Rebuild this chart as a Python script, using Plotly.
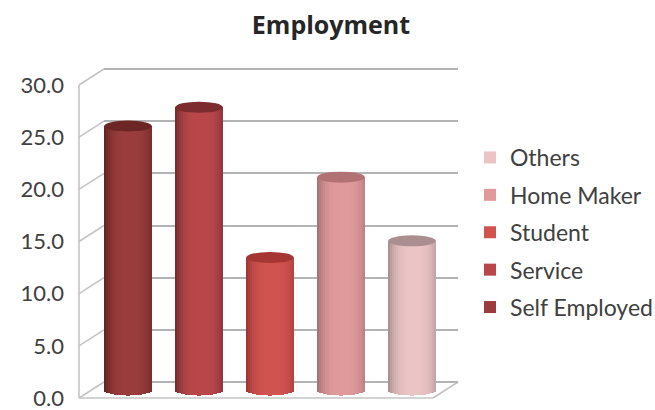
import plotly.graph_objects as go

WIDTH, HEIGHT = 655, 410

categories = ["Self Employed", "Service", "Student", "Home Maker", "Others"]
values = [25.3, 27.1, 12.7, 20.4, 14.3]
tick_values = [0, 5, 10, 15, 20, 25, 30]
tick_labels = ["0.0", "5.0", "10.0", "15.0", "20.0", "25.0", "30.0"]

centre_colors = ["#9a3c3c", "#b9474a", "#d15350", "#e09a9c", "#ebc4c5"]
edge_colors = ["#5e2222", "#6e2a2c", "#9a3432", "#a26e70", "#a38a8c"]
cap_colors = ["#6c2626", "#7c2c2e", "#a53634", "#b27274", "#ab8e90"]

TEXT_COLOR = "#404040"
GRID_COLOR = "#b4b4b4"
WALL_COLOR = "#c4c4c4"
FONT = "Lato"

# Pixel geometry of the pseudo-3D box
PX_PER_UNIT = 313 / 30
FRONT_LEFT, FRONT_BOTTOM = 79, 398
BACK_LEFT, BACK_BOTTOM = 104, 382
BACK_RIGHT = 458
BAR_BOTTOM = 390
FIRST_CENTRE, BAR_STEP = 128, 71
BAR_WIDTH = 0.67
CAP_HEIGHT = 5.5 / PX_PER_UNIT
STRIPS = 24
RANGE_PAD = 0.5  # keeps the first and last gridline away from the axis ends


def value_domain(bottom_px):
    """Vertical domain of a value axis whose zero sits at bottom_px."""
    low = HEIGHT - bottom_px - RANGE_PAD * PX_PER_UNIT
    high = HEIGHT - bottom_px + (30 + RANGE_PAD) * PX_PER_UNIT
    return [low / HEIGHT, high / HEIGHT]


def hex_rgb(color):
    return [int(color[i:i + 2], 16) for i in (1, 3, 5)]


def mix(a, b, f):
    ra, rb = hex_rgb(a), hex_rgb(b)
    return "rgb({},{},{})".format(*[round(p + (q - p) * f) for p, q in zip(ra, rb)])


def cylinder_strips(index, value):
    """Vertical strips shaded like a cylinder, their ends following the base ellipse."""
    step = BAR_WIDTH / STRIPS
    xs, bases, heights, colors = [], [], [], []
    for s in range(STRIPS):
        t = (s + 0.5) / STRIPS * 2 - 1
        curve = (1 - t * t) ** 0.5
        light = 1 - min(1, abs(t - 0.08) / 1.08) ** 3.2
        xs.append(index + t * BAR_WIDTH / 2)
        bases.append(-CAP_HEIGHT * curve)
        heights.append(value + CAP_HEIGHT * curve)
        colors.append(mix(edge_colors[index], centre_colors[index], light))
    # the central strip comes first so that the legend swatch takes its colour
    mid = STRIPS // 2
    order = [mid] + list(range(mid)) + list(range(mid + 1, STRIPS))
    return (
        [xs[o] for o in order],
        [bases[o] for o in order],
        [heights[o] for o in order],
        [colors[o] for o in order],
        step * 1.15,
    )


fig = go.Figure()

# The gridded back wall and the labelled front edge hold an invisible point each,
# which keeps those axes drawn.
fig.add_trace(go.Scatter(x=[0], y=[0], mode="none", showlegend=False, hoverinfo="skip"))
fig.add_trace(go.Scatter(x=[0], y=[0], xaxis="x2", yaxis="y2", mode="none",
                         showlegend=False, hoverinfo="skip"))

# Added last to first: the legend lists "Others" at the top.
for i in reversed(range(len(categories))):
    xs, bases, heights, colors, w = cylinder_strips(i, values[i])
    fig.add_trace(go.Bar(
        x=xs, y=heights, base=bases, width=w, name=categories[i],
        legendgroup=categories[i],
        marker=dict(color=colors, line=dict(width=0)),
        xaxis="x3", yaxis="y3", hoverinfo="skip",
    ))

shapes = []


def line(x0, y0, x1, y1, color=WALL_COLOR, width=1.6):
    shapes.append(dict(
        type="line", xref="paper", yref="paper", layer="below",
        x0=x0 / WIDTH, x1=x1 / WIDTH,
        y0=1 - y0 / HEIGHT, y1=1 - y1 / HEIGHT,
        line=dict(color=color, width=width),
    ))


# Slanted side-wall lines, front wall edge and floor outline
for v in tick_values:
    line(FRONT_LEFT, FRONT_BOTTOM - v * PX_PER_UNIT,
         BACK_LEFT, BACK_BOTTOM - v * PX_PER_UNIT)
line(FRONT_LEFT, FRONT_BOTTOM, FRONT_LEFT, FRONT_BOTTOM - 30 * PX_PER_UNIT)
line(FRONT_LEFT, FRONT_BOTTOM, BACK_RIGHT - 25, FRONT_BOTTOM)
line(BACK_RIGHT - 25, FRONT_BOTTOM, BACK_RIGHT, BACK_BOTTOM)

# Elliptical top of each cylinder
for i, value in enumerate(values):
    shapes.append(dict(
        type="circle", xref="x3", yref="y3", layer="above",
        x0=i - BAR_WIDTH / 2, x1=i + BAR_WIDTH / 2,
        y0=value - CAP_HEIGHT, y1=value + CAP_HEIGHT,
        fillcolor=cap_colors[i], line=dict(width=0),
    ))

fig.update_layout(
    width=WIDTH, height=HEIGHT,
    margin=dict(l=0, r=0, t=0, b=0, autoexpand=False),
    paper_bgcolor="white", plot_bgcolor="rgba(0,0,0,0)",
    barmode="overlay", bargap=0,
    font=dict(family=FONT, color=TEXT_COLOR, size=22),
    title=dict(text="<b>Employment</b>", x=331 / WIDTH, xanchor="center",
               y=1 - 25 / HEIGHT, yanchor="middle",
               font=dict(family="Open Sans", size=25, color="#262626")),
    # back wall, with the horizontal gridlines
    xaxis=dict(domain=[BACK_LEFT / WIDTH, BACK_RIGHT / WIDTH], range=[0, 1],
               visible=False),
    yaxis=dict(domain=value_domain(BACK_BOTTOM),
               range=[-RANGE_PAD, 30 + RANGE_PAD], tickvals=tick_values,
               showticklabels=False, showgrid=True, gridcolor=GRID_COLOR,
               gridwidth=1.5, zeroline=False, showline=False, ticks=""),
    # front edge, with the value labels
    xaxis2=dict(domain=[FRONT_LEFT / WIDTH, 1], range=[0, 1], visible=False,
                anchor="y2"),
    yaxis2=dict(domain=value_domain(FRONT_BOTTOM),
                range=[-RANGE_PAD, 30 + RANGE_PAD], tickvals=tick_values,
                ticktext=tick_labels, showgrid=False, zeroline=False,
                showline=False, ticks="", anchor="x2", ticklabelstandoff=14,
                ticklabeloverflow="allow",
                tickfont=dict(family=FONT, size=22, color=TEXT_COLOR)),
    # mid-depth plane the cylinders stand on
    xaxis3=dict(domain=[0, 1], visible=False, anchor="y3",
                range=[-FIRST_CENTRE / BAR_STEP, (WIDTH - FIRST_CENTRE) / BAR_STEP]),
    yaxis3=dict(domain=[0, 1], visible=False, anchor="x3",
                range=[(BAR_BOTTOM - HEIGHT) / PX_PER_UNIT, BAR_BOTTOM / PX_PER_UNIT]),
    legend=dict(x=470 / WIDTH, y=1 - 136 / HEIGHT, xanchor="left", yanchor="top",
                traceorder="grouped", tracegroupgap=4.5,
                font=dict(family=FONT, size=23, color=TEXT_COLOR),
                bgcolor="rgba(0,0,0,0)", itemwidth=30),
    shapes=shapes,
)

fig.write_html("out.html")
